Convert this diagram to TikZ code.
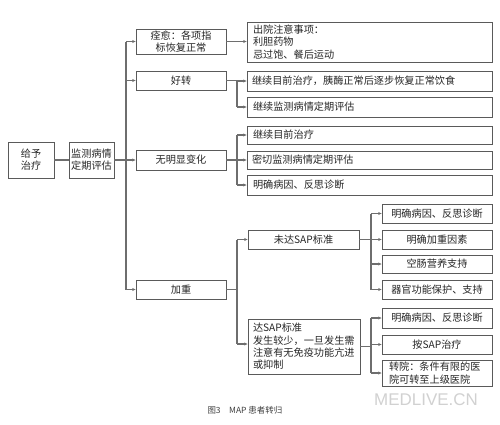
\documentclass[tikz,border=0pt]{standalone}
\usepackage{fontspec}
\setmainfont{Noto Sans CJK SC}
\newfontfamily\wmfont{Liberation Sans}
\usetikzlibrary{arrows.meta}
\definecolor{lc}{HTML}{6E6E6E}
\definecolor{bc}{HTML}{5A5A5A}
\begin{document}
\begin{tikzpicture}[x=1bp,y=-1bp,
  box/.style={draw=bc,line width=0.8bp,inner sep=0pt,font=\fontsize{10.2}{12.3}\selectfont,text=black!85},
  conn/.style={draw=lc,line width=1.4bp},
  arr/.style={conn,-{Stealth[length=3.5bp,width=3bp]}}]
\useasboundingbox (0,0) rectangle (500,424);
\fill[white] (0,0) rectangle (500,424);
% level 1
\node[box,minimum width=46bp,minimum height=36bp,align=center] (give) at (31,160) {给予\\治疗};
\node[box,minimum width=45bp,minimum height=36bp,align=center] (mon) at (91.5,160) {监测病情\\定期评估};
% level 2
\node[box,minimum width=90bp,minimum height=25bp,align=center] (cure) at (181,41.5) {痊愈：各项指\\标恢复正常};
\node[box,minimum width=90bp,minimum height=19bp] (better) at (181,80.5) {好转};
\node[box,minimum width=90bp,minimum height=20bp] (nochg) at (181,160) {无明显变化};
\node[box,minimum width=90bp,minimum height=19bp] (worse) at (181,289.5) {加重};
% right column
\node[box,minimum width=245bp,minimum height=40bp,align=left,text width=233bp] (dis) at (369.5,42) {出院注意事项：\\利胆药物\\忌过饱、餐后运动};
\node[box,minimum width=245bp,minimum height=20bp,align=left,text width=235bp] (c1) at (369.5,81) {继续目前治疗，胰酶正常后逐步恢复正常饮食};
\node[box,minimum width=245bp,minimum height=20bp,align=left,text width=233bp] (m2) at (369.5,107) {继续监测病情定期评估};
\node[box,minimum width=245bp,minimum height=18bp,align=left,text width=233bp] (c2) at (369.5,135) {继续目前治疗};
\node[box,minimum width=245bp,minimum height=18bp,align=left,text width=235bp] (cl) at (369.5,160) {密切监测病情定期评估};
\node[box,minimum width=245bp,minimum height=20bp,align=left,text width=233bp] (ca) at (369.5,185) {明确病因、反思诊断};
% worse branch
\node[box,minimum width=111bp,minimum height=19bp] (nsap) at (303.5,239.5) {未达SAP标准};
\node[box,minimum width=112bp,minimum height=55bp,align=left,text width=102bp] (sap) at (304,346.5) {达SAP标准\\发生较少，一旦发生需\\注意有无免疫功能亢进\\或抑制};
\node[box,minimum width=110bp,minimum height=19bp] (a1) at (437,213.5) {明确病因、反思诊断};
\node[box,minimum width=110bp,minimum height=19bp] (a2) at (437,239.5) {明确加重因素};
\node[box,minimum width=110bp,minimum height=18bp] (a3) at (437,264) {空肠营养支持};
\node[box,minimum width=110bp,minimum height=19bp] (a4) at (437,289.5) {器官功能保护、支持};
\node[box,minimum width=110bp,minimum height=20bp] (b1) at (437,318) {明确病因、反思诊断};
\node[box,minimum width=110bp,minimum height=19bp] (b2) at (437,344.5) {按SAP治疗};
\node[box,minimum width=110bp,minimum height=26bp,align=left,text width=96bp] (b3) at (437,373) {转院：条件有限的医\\院可转至上级医院};
% junctions
\coordinate (tr) at (126,160);
\coordinate (jb) at (237,80.5);
\coordinate (jn) at (237,160);
\coordinate (jw) at (237,289.5);
\coordinate (jns) at (371,239.5);
\coordinate (js) at (371,346.5);
% connectors
\draw[conn] (give.east) -- (mon.west);
\draw[conn] (mon.east) -- (tr);
\draw[conn] (tr |- cure) -- (tr |- worse);
\foreach \n in {cure,better,nochg,worse} \draw[arr] (tr |- \n) -- (\n.west);
\draw[arr] (cure.east) -- (dis.west |- cure.east);
\draw[conn] (better.east) -- (jb);
\draw[conn] (jb |- c1) -- (jb |- m2);
\foreach \n in {c1,m2} \draw[arr] (jb |- \n) -- (\n.west);
\draw[conn] (nochg.east) -- (jn);
\draw[conn] (jn |- c2) -- (jn |- ca);
\foreach \n in {c2,cl,ca} \draw[arr] (jn |- \n) -- (\n.west);
\draw[conn] (worse.east) -- (jw);
\draw[conn] (jw |- nsap) -- (237,344);
\draw[arr] (jw |- nsap) -- (nsap.west);
\draw[arr] (237,344) -- (sap.west |- 0,344);
\draw[conn] (nsap.east) -- (jns);
\draw[conn] (jns |- a1) -- (jns |- a4);
\foreach \n in {a1,a2,a3,a4} \draw[arr] (jns |- \n) -- (\n.west);
\draw[conn] (sap.east) -- (js);
\draw[conn] (js |- b1) -- (js |- b3);
\foreach \n in {b1,b2,b3} \draw[arr] (js |- \n) -- (\n.west);
% caption and watermark
\node[font=\fontsize{8.5}{10}\selectfont,text=black!75,anchor=west] (cap) at (204,410) {图3\quad MAP 患者转归};
\node[font=\wmfont\fontsize{17}{18}\selectfont,text=black!18] (wm) at (426,400) {MEDLIVE.CN};
\end{tikzpicture}
\end{document}
